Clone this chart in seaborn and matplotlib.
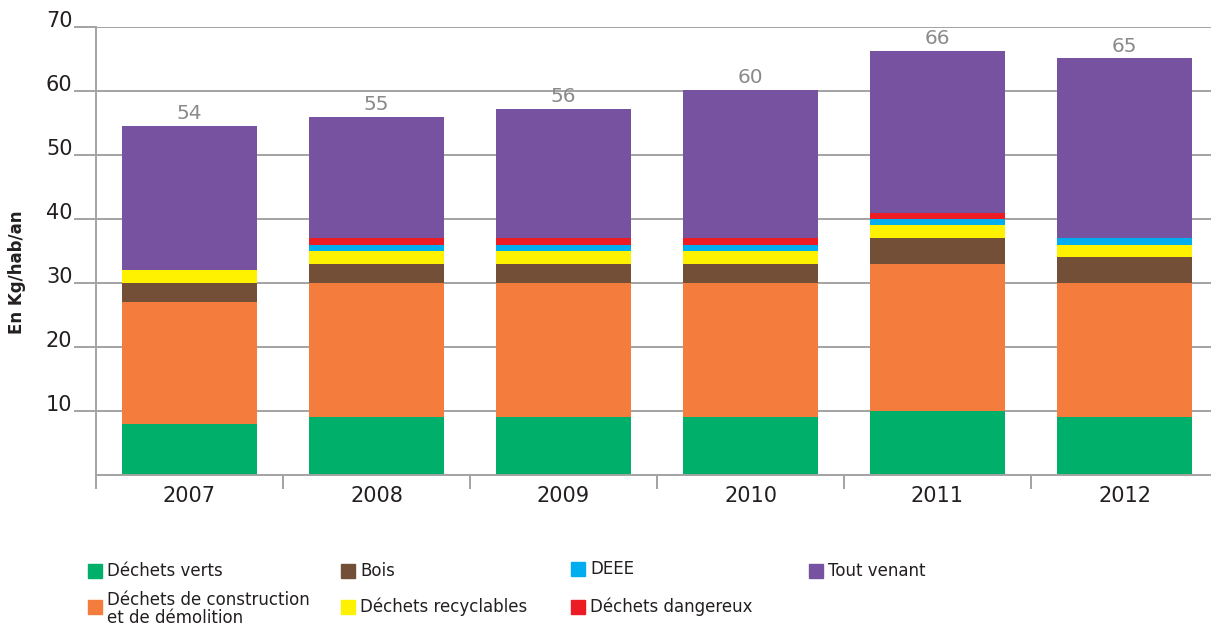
import seaborn as sns
import matplotlib.pyplot as plt
import numpy as np
import pandas as pd
from matplotlib.patches import Rectangle

sns.set_theme(style="white")
plt.rcParams['font.family'] = ['DejaVu Sans']

# Données (kg/hab/an)
annees = ["2007", "2008", "2009", "2010", "2011", "2012"]
dechets_verts = [8, 9, 9, 9, 10, 9]
construction = [19, 21, 21, 21, 23, 21]
bois = [3, 3, 3, 3, 4, 4]
recyclables = [2, 2, 2, 2, 2, 2]
deee = [0, 1, 1, 1, 1, 1]
dangereux = [0, 1, 1, 1, 1, 0]
tout_venant = [22.5, 18.9, 20.2, 23.2, 25.3, 28.1]
totaux_affiches = [54, 55, 56, 60, 66, 65]

series = [
    ("Déchets verts", dechets_verts, "#00B06A"),
    ("Déchets de construction\net de démolition", construction, "#F47C3C"),
    ("Bois", bois, "#734F37"),
    ("Déchets recyclables", recyclables, "#FFF200"),
    ("DEEE", deee, "#00AEEF"),
    ("Déchets dangereux", dangereux, "#ED1C24"),
    ("Tout venant", tout_venant, "#7752A0"),
]

W, H = 1211, 626
fig = plt.figure(figsize=(W / 100, H / 100), dpi=100)
ax = fig.add_axes([96 / W, 1 - 475 / H, 1 - 96 / W, (475 - 27) / H])

# empilement : on dessine les cumuls du haut vers le bas
cumul = np.cumsum([np.array(s[1], dtype=float) for s in series], axis=0)
for (nom, vals, couleur), hauteur in reversed(list(zip(series, cumul))):
    df = pd.DataFrame({"annee": annees, "valeur": hauteur})
    sns.barplot(data=df, x="annee", y="valeur", color=couleur, saturation=1,
                width=0.72, edgecolor="none", linewidth=0, ax=ax, zorder=2)

grid_col = "#A3A3A3"
ax.set_ylim(0, 70)
ax.set_xlim(-0.5, -0.5 + (W - 96) / 187)
ax.set_yticks(range(10, 71, 10))
ax.yaxis.grid(True, color=grid_col, linewidth=1.4, zorder=0)
ax.set_axisbelow(True)
for s in ["top", "right"]:
    ax.spines[s].set_visible(False)
for s in ["left", "bottom"]:
    ax.spines[s].set_color(grid_col)
    ax.spines[s].set_linewidth(1.4)

ax.tick_params(axis="y", left=True, length=16, width=1.4, color=grid_col,
               pad=1, labelsize=15, labelcolor="#231F20")
for t in ax.get_yticklabels():
    t.set_verticalalignment("baseline")
ax.set_xticks(np.arange(-0.5, 5, 1), minor=True)
ax.tick_params(axis="x", which="major", bottom=False, length=0, pad=8,
               labelsize=15, labelcolor="#231F20")
ax.tick_params(axis="x", which="minor", bottom=True, length=10, width=1.4,
               color=grid_col)
ax.set_xlabel("")
ax.set_ylabel("")

# totaux au-dessus des barres
for i, (tot, lab) in enumerate(zip(cumul[-1], totaux_affiches)):
    ax.annotate(str(lab), (i, tot), xytext=(0, 2), textcoords="offset points",
                ha="center", va="bottom", fontsize=14.5, color="#8A8A8A")

fig.text(17 / W, 1 - 272 / H, "En Kg/hab/an", rotation=90, ha="center",
         va="center", fontsize=12, fontweight="bold", color="#231F20")

# légende
pos_legende = [(88, 571), (88, 607), (341, 571), (341, 607),
               (571, 569), (571, 607), (809, 571)]
for (nom, vals, couleur), (px, py) in zip(series, pos_legende):
    fig.patches.append(Rectangle((px / W, 1 - (py + 7) / H), 14 / W, 14 / H,
                                 transform=fig.transFigure, color=couleur))
    fig.text((px + 19) / W, 1 - (py + (2 if "\n" in nom else 0)) / H, nom,
             ha="left", va="center", fontsize=12, color="#231F20",
             linespacing=1.0)

fig.savefig("out.png", dpi=100)
